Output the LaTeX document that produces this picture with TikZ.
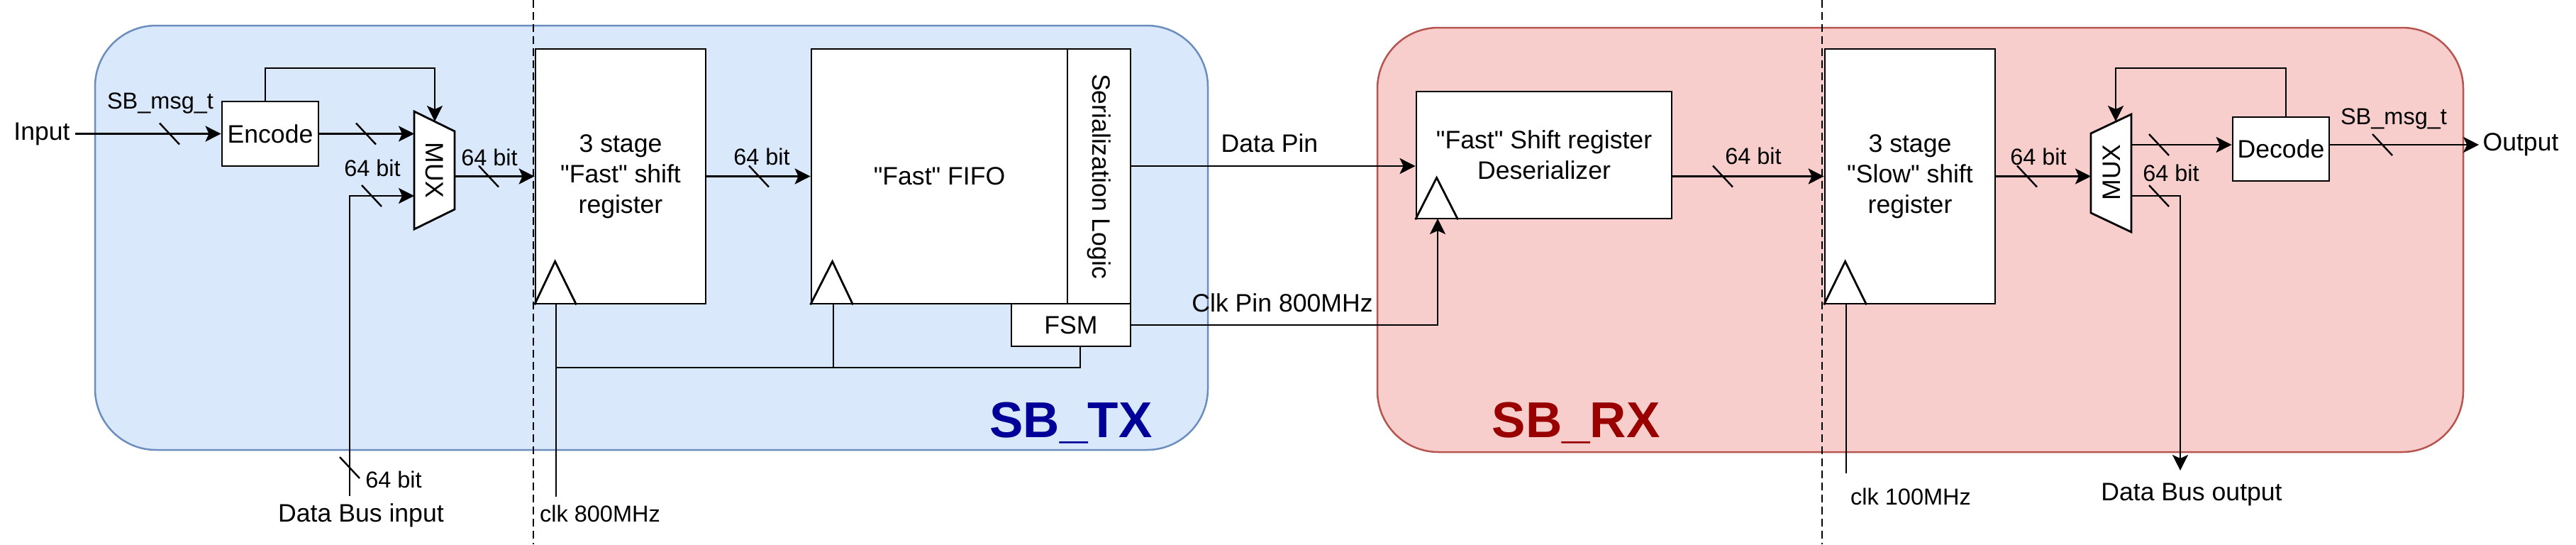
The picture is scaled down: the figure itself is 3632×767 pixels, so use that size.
\documentclass[tikz,border=0pt]{standalone}
\usepackage{fontspec}
\setmainfont{Liberation Sans}
\newfontfamily\plainqfont{Liberation Sans}
\usetikzlibrary{arrows.meta}
\definecolor{txfill}{HTML}{DAE8FC}
\definecolor{txline}{HTML}{6C8EBF}
\definecolor{rxfill}{HTML}{F8CECC}
\definecolor{rxline}{HTML}{B85450}
\definecolor{txtitle}{HTML}{000099}
\definecolor{rxtitle}{HTML}{990000}
\newcommand\fbig{\fontsize{17.8pt}{21.5pt}\selectfont}
\newcommand\fsml{\fontsize{16.25pt}{19pt}\selectfont}
\newcommand\ftitle{\fontsize{35.5pt}{40pt}\selectfont\bfseries}
\newcommand\sq{{\plainqfont"}}
\newcommand\busmark[1]{\draw[bitmark] (#1) ++(-14,-15) -- ++(28,30);}
\begin{document}
\begin{tikzpicture}[x=0.5pt,y=-0.5pt,
  wire/.style={line width=1.4pt},
  arr/.style={wire,-{Stealth[length=11pt,width=11pt,inset=2.5pt]}},
  blk/.style={draw,line width=1.4pt,fill=white,inner sep=0pt,align=center,font=\fbig},
  lbl/.style={inner sep=0pt,font=\fbig},
  sml/.style={inner sep=0pt,font=\fsml},
  bitmark/.style={line width=1.2pt},
  divider/.style={line width=1.2pt,dash pattern=on 5.5pt off 3pt},
  container/.style={line width=1.25pt,rounded corners=43pt,inner sep=0pt},
  title/.style={font=\ftitle,inner sep=0pt,anchor=base}
]
\useasboundingbox (0,0) rectangle (3632,767);
\fill[white] (0,0) rectangle (3632,767);

% containers
\node[container,draw=txline,fill=txfill,minimum width=784.5pt,minimum height=299pt] (tx) at (918.5,335) {};
\node[container,draw=rxline,fill=rxfill,minimum width=765.5pt,minimum height=299pt] (rx) at (2707.5,338) {};

% clock-domain dividers
\coordinate (d1t) at (752,0); \coordinate (d1b) at (752,767);
\coordinate (d2t) at (2569,0); \coordinate (d2b) at (2569,767);
\draw[divider] (d1t) -- (d1b);
\draw[divider] (d2t) -- (d2b);

% blocks
\node[blk,minimum width=68pt,minimum height=45.5pt] (enc) at (381,188.5) {Encode};
\node[blk,minimum width=120pt,minimum height=179.5pt] (sr1) at (875,248.5) {3 stage\\\sq Fast\sq{} shift\\register};
\node[blk,minimum width=180.5pt,minimum height=179.5pt] (fifo) at (1324.5,248.5) {\sq Fast\sq{} FIFO};
\node[blk,minimum width=44.5pt,minimum height=179.5pt] (ser) at (1549.5,248.5) {};
\node[lbl,rotate=-90] (serl) at (ser.center) {Serialization Logic};
\node[blk,minimum width=84pt,minimum height=30pt] (fsm) at (1510,458) {FSM};
\node[blk,minimum width=180pt,minimum height=89.5pt] (des) at (2177,218.5) {\sq Fast\sq{} Shift register\\Deserializer};
\node[blk,minimum width=120pt,minimum height=179.5pt] (sr2) at (2693,248.5) {3 stage\\\sq Slow\sq{} shift\\register};
\node[blk,minimum width=68pt,minimum height=45pt] (dec) at (3216,210) {Decode};

% multiplexers
\draw[wire,fill=white] (584,157) -- (641,185) -- (641,295) -- (584,323) -- cycle;
\node[lbl,rotate=-90] (mux1) at (613,240) {MUX};
\draw[wire,fill=white] (2948,188) -- (3005,161) -- (3005,327) -- (2948,300) -- cycle;
\node[lbl,rotate=90] (mux2) at (2977,243) {MUX};
\coordinate (m1a) at (584,188.5);
\coordinate (m1b) at (584,276);
\coordinate (m1t) at (613,171);
\coordinate (m1o) at (641,248.5);
\coordinate (m2i) at (2948,248.5);
\coordinate (m2t) at (2983,171);
\coordinate (m2o) at (3005,204);
\coordinate (m2d) at (3005,276);

% clock marks
\draw[wire] (sr1.south west) -- ++(29,-61) -- ++(30,61);
\draw[wire] (fifo.south west) -- ++(31,-61) -- ++(29,61);
\draw[wire] (des.south west) -- ++(30,-59) -- ++(30,59);
\draw[wire] (sr2.south west) -- ++(30,-61) -- ++(30,61);

% labels
\node[lbl,inner sep=3.5pt] (in) at (59,188.5) {Input};
\node[sml] (msg1) at (226,146) {SB\_msg\_t};
\node[sml] (b1) at (525,237) {64 bit};
\node[sml] (b2) at (690,222) {64 bit};
\node[sml] (b3) at (555,676) {64 bit};
\node[lbl] (dbi) at (509,726) {Data Bus input};
\node[sml] (b4) at (1074,221) {64 bit};
\node[sml] (clk1) at (846,724) {clk 800MHz};
\node[lbl] (dp) at (1790,202) {Data Pin};
\node[lbl] (cp) at (1808,427) {Clk Pin 800MHz};
\node[sml] (b5) at (2472,220) {64 bit};
\node[sml] (clk2) at (2694,700) {clk 100MHz};
\node[sml] (b6) at (2874,221) {64 bit};
\node[sml] (b7) at (3061,244) {64 bit};
\node[sml] (msg2) at (3375,168) {SB\_msg\_t};
\node[lbl,inner sep=2.5pt] (out) at (3554,204) {Output};
\node[lbl] (dbo) at (3090,697) {Data Bus output};
\node[title,text=txtitle] (txn) at (1510,616) {SB\_TX};
\node[title,text=rxtitle] (rxn) at (2222,616) {SB\_RX};

% connector end points
\coordinate (encT) at (374,143);
\coordinate (dbiT) at (493,699);
\coordinate (ck1) at (784,700);
\coordinate (bus) at (784,518);
\coordinate (fifock) at (1175,428);
\coordinate (fsmck) at (1523,488);
\coordinate (dpS) at (1594,234);
\coordinate (desck) at (2027,308);
\coordinate (ck2) at (2603,667);
\coordinate (decT) at (3223,165);
\coordinate (dboT) at (3074,663);

% TX connectors
\draw[arr] (in.east) -- (enc.west);
\draw[arr] (encT) -- ++(0,-47) -| (m1t);
\draw[arr] (enc.east) -- (m1a);
\draw[arr] (dbiT) |- (m1b);
\draw[arr] (m1o) -- (sr1.west |- m1o);
\draw[arr] (sr1.east) -- (fifo.west);
\draw[wire] (ck1) -- (ck1 |- sr1.south);
\draw[wire] (bus) -| (fifock);
\draw[wire] (bus) -| (fsmck);
\draw[arr] (dpS) -- (dpS -| des.west);
\draw[arr] (fsm.east) -| (desck);

% RX connectors
\draw[arr] (des.east |- sr2.west) -- (sr2.west);
\draw[wire] (ck2) -- (ck2 |- sr2.south);
\draw[arr] (sr2.east) -- (m2i);
\draw[arr] (m2o) -- (m2o -| dec.west);
\draw[arr] (decT) -- ++(0,-69) -| (m2t);
\draw[arr] (m2o -| dec.east) -- (out.west);
\draw[arr] (m2d) -| (dboT);

% bus-width marks
\busmark{239,188.5}
\busmark{516,188.5}
\busmark{524,276}
\busmark{493,659}
\busmark{689,248.5}
\busmark{1070,248.5}
\busmark{2429,248.5}
\busmark{2858,248.5}
\busmark{3044,204}
\busmark{3044,276}
\busmark{3359,204}
\end{tikzpicture}
\end{document}
